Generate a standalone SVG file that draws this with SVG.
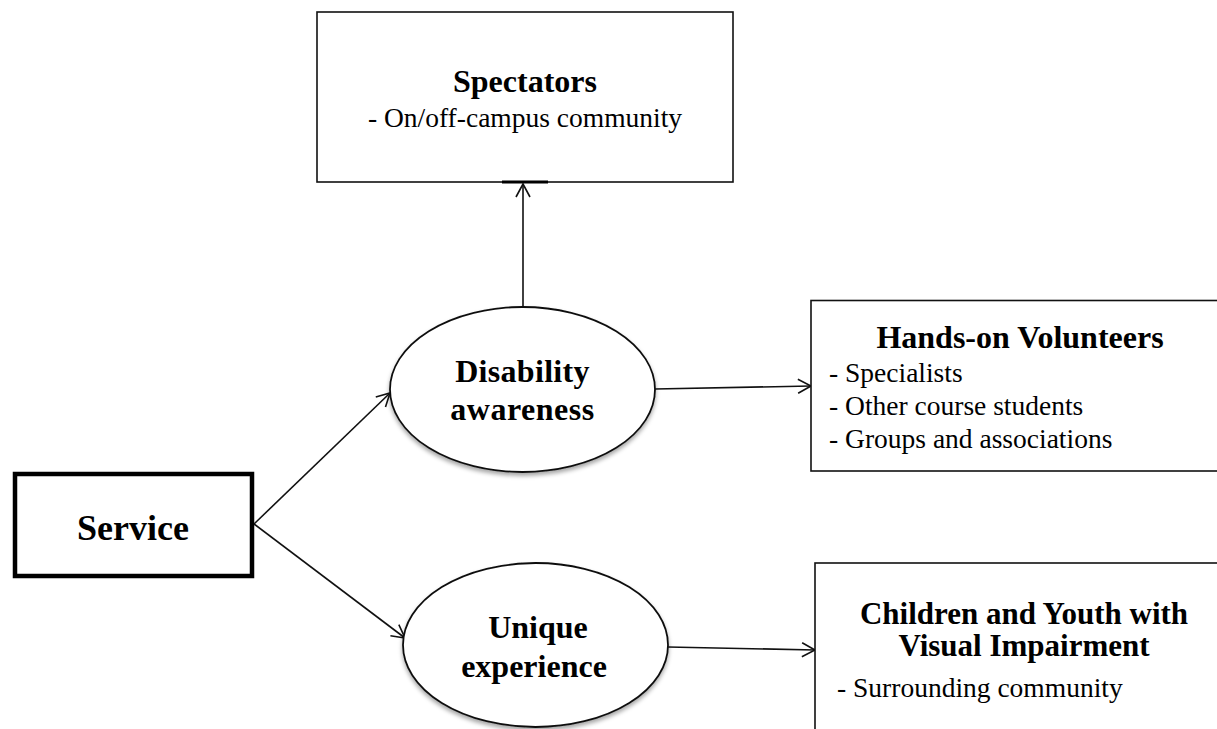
<svg xmlns="http://www.w3.org/2000/svg" width="1217" height="729" viewBox="0 0 1217 729">
  <style>
    .box { fill: #fff; stroke: #111; stroke-width: 1.6; }
    .oval { fill: #fff; stroke: #111; stroke-width: 1.8; filter: url(#soft); }
    .head { font-family: "Liberation Serif", "Times New Roman", serif; font-weight: bold; font-size: 32px; fill: #000; text-anchor: middle; }
    .item { font-family: "Liberation Serif", "Times New Roman", serif; font-size: 27.5px; fill: #000; }
    .link { fill: none; stroke: #111; stroke-width: 1.6; marker-end: url(#arrow); }
  </style>
  <defs>
    <marker id="arrow" markerUnits="userSpaceOnUse" markerWidth="18" markerHeight="18" refX="14" refY="8" orient="auto">
      <path d="M1,1 L14,8 L1,15" fill="none" stroke="#111" stroke-width="1.6"/>
    </marker>
    <filter id="soft" x="-10%" y="-10%" width="120%" height="130%">
      <feDropShadow dx="0" dy="3" stdDeviation="2" flood-color="#000" flood-opacity="0.35"/>
    </filter>
  </defs>

  <!-- connectors -->
  <g id="connectors">
    <line class="link" x1="254" y1="524" x2="390" y2="393"/>
    <line class="link" x1="254" y1="524" x2="405" y2="638"/>
    <line class="link" x1="523" y1="307" x2="523" y2="184"/>
    <line class="link" x1="655" y1="389" x2="811" y2="386"/>
    <line class="link" x1="668" y1="647" x2="815" y2="650"/>
  </g>

  <g id="service">
    <rect x="15" y="474" width="237" height="102" fill="#fff" stroke="#000" stroke-width="4.5"/>
    <text x="133" y="540" class="head" style="font-size:36px">Service</text>
  </g>

  <g id="spectators">
    <rect class="box" x="317" y="12" width="416" height="170"/>
    <line x1="502" y1="182" x2="548" y2="182" stroke="#000" stroke-width="3"/>
    <text x="525" y="92" class="head">Spectators</text>
    <text x="525" y="127" class="item" text-anchor="middle">- On/off-campus community</text>
  </g>

  <g id="disability-awareness">
    <ellipse class="oval" cx="522.5" cy="389.5" rx="132.5" ry="82.5"/>
    <text x="522.5" y="382" class="head" letter-spacing="0.3">Disability</text>
    <text x="522.5" y="420" class="head" letter-spacing="0.5">awareness</text>
  </g>

  <g id="unique-experience">
    <ellipse class="oval" cx="535.5" cy="645" rx="132.5" ry="82"/>
    <text x="538" y="638" class="head">Unique</text>
    <text x="534" y="677" class="head">experience</text>
  </g>

  <g id="hands-on-volunteers">
    <rect class="box" x="811" y="300.5" width="420" height="170.5"/>
    <text x="1020" y="348" class="head">Hands-on Volunteers</text>
    <text x="829" y="382" class="item">- Specialists</text>
    <text x="829" y="415" class="item">- Other course students</text>
    <text x="829" y="448" class="item">- Groups and associations</text>
  </g>

  <g id="children-youth">
    <rect class="box" x="815" y="563" width="420" height="200"/>
    <text x="1024" y="624" class="head" style="font-size:31px">Children and Youth with</text>
    <text x="1024" y="656" class="head" style="font-size:31px">Visual Impairment</text>
    <text x="837" y="697" class="item">- Surrounding community</text>
  </g>
</svg>
